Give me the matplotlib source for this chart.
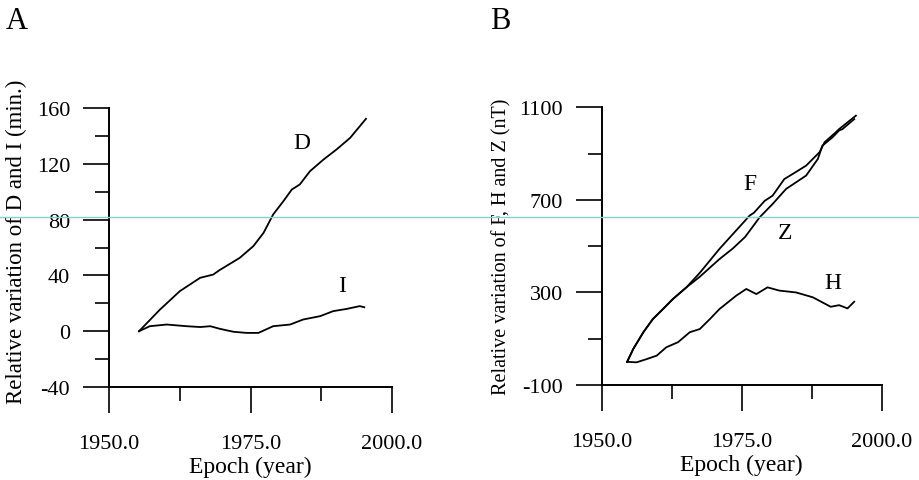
import matplotlib
matplotlib.use("Agg")
import matplotlib.pyplot as plt
from matplotlib.lines import Line2D

plt.rcParams['font.family'] = ['Liberation Serif', 'DejaVu Serif']
plt.rcParams['axes.unicode_minus'] = False

# panel A : declination D and inclination I (minutes of arc)
d_year = [1955.3, 1959.0, 1962.5, 1966.1, 1968.4, 1969.6, 1973.1, 1975.5, 1977.3, 1979.0,
          1980.8, 1982.3, 1983.7, 1985.5, 1987.9, 1990.2, 1992.6, 1995.4]
d_val = [0, 15.5, 28.7, 38.3, 40.6, 44, 52.6, 61, 70.5, 83.7,
         93.2, 101.6, 105.2, 114.7, 123.1, 130.3, 138.6, 152.3]

i_year = [1955.3, 1957.2, 1960.2, 1963.7, 1966.1, 1967.9, 1969.6, 1972.0, 1974.3, 1976.4,
          1979.0, 1982.0, 1984.3, 1987.3, 1989.6, 1992.0, 1994.3, 1995.1]
i_val = [0, 3.6, 4.8, 3.6, 3.0, 3.6, 1.7, -0.4, -1.2, -1.2,
         3.6, 4.8, 8.4, 10.8, 14.4, 16, 18, 17.2]

# panel B : F, Z and H (nT)
f_year = [1954.5, 1955.6, 1957.4, 1959.1, 1960.9, 1962.7, 1965.1, 1967.5, 1971.0, 1973.4,
          1976.4, 1977.2, 1979.1, 1980.5, 1982.6, 1984.1, 1986.5, 1988.9, 1989.8,
          1991.8, 1992.4, 1995.4]
f_val = [0, 56, 128, 185, 228, 272, 322, 385, 488, 552,
         632, 645, 696, 718, 790, 812, 848, 906, 949,
         992, 1006, 1064]

z_year = [1954.5, 1955.6, 1957.4, 1959.1, 1960.9, 1962.7, 1965.1, 1967.5, 1971.0, 1973.4,
          1975.6, 1978.2, 1980.5, 1982.9, 1986.5, 1988.6, 1989.4, 1991.2, 1992.4,
          1993.0, 1995.1]
z_val = [0, 56, 128, 185, 228, 272, 322, 368, 444, 490,
         540, 625, 682, 747, 805, 877, 934, 970, 1000,
         1006, 1049]

h_year = [1954.5, 1956.2, 1958.0, 1959.8, 1961.5, 1963.6, 1965.7, 1967.5, 1969.3, 1971.0,
          1974.0, 1975.8, 1977.6, 1979.6, 1981.7, 1984.7, 1987.7, 1990.9, 1992.4,
          1993.9, 1995.1]
h_val = [0, -2, 12, 27, 63, 85, 128, 142, 185, 228,
         286, 315, 293, 322, 308, 300, 279, 238, 245,
         231, 260]

x_ticks = [1950, 1975, 2000]
x_ticklabels = ['1950.0', '1975.0', '2000.0']
x_minor = [1962.5, 1987.5]

a_ticks = [-40, 0, 40, 80, 120, 160]
a_ticklabels = ['-40', '0', '40', '80', '120', '160']
a_minor = [-20, 20, 60, 100, 140]

b_ticks = [-100, 300, 700, 1100]
b_ticklabels = ['-100', '300', '700', '1100']
b_minor = [100, 500, 900]


def style_axes(ax):
    ax.spines['top'].set_visible(False)
    ax.spines['right'].set_visible(False)
    ax.spines['left'].set_linewidth(1.4)
    ax.spines['bottom'].set_linewidth(1.4)
    ax.tick_params(which='major', direction='out', length=19, width=1.2, labelsize=16)
    ax.tick_params(which='minor', direction='out', length=10, width=1.2)
    ax.tick_params(axis='y', which='major', pad=9)
    ax.tick_params(axis='x', which='major', pad=15)
    ax.set_xlim(1950, 2000)
    ax.set_xticks(x_ticks)
    ax.set_xticklabels(x_ticklabels)
    ax.set_xticks(x_minor, minor=True)
    ax.set_xlabel('Epoch (year)', fontsize=17, labelpad=2)


fig = plt.figure(figsize=(9.2, 4.81), dpi=100)

axA = fig.add_axes([0.1185, 0.1933, 0.3076, 0.580])
axA.plot(d_year, d_val, color='black', lw=1.3)
axA.plot(i_year, i_val, color='black', lw=1.3)
style_axes(axA)
axA.set_ylim(-40, 160)
axA.set_yticks(a_ticks)
axA.set_yticklabels(a_ticklabels)
axA.set_yticks(a_minor, minor=True)
axA.set_ylabel('Relative variation of D and I (min.)', fontsize=16.5)
axA.yaxis.set_label_coords(-0.29, 0.525)
axA.text(1984.0, 135, 'D', fontsize=17, ha='center', va='center')
axA.text(1991.1, 33, 'I', fontsize=17, ha='center', va='center')

axB = fig.add_axes([0.6543, 0.1975, 0.304, 0.5773])
axB.plot(f_year, f_val, color='black', lw=1.3)
axB.plot(z_year, z_val, color='black', lw=1.3)
axB.plot(h_year, h_val, color='black', lw=1.3)
style_axes(axB)
axB.set_ylim(-100, 1100)
axB.set_yticks(b_ticks)
axB.set_yticklabels(b_ticklabels)
axB.set_yticks(b_minor, minor=True)
axB.set_ylabel('Relative variation of F, H and Z (nT)', fontsize=14.5, labelpad=6)
axB.text(1976.4, 769, 'F', fontsize=17, ha='center', va='center')
axB.text(1982.8, 557, 'Z', fontsize=17, ha='center', va='center')
axB.text(1991.2, 341, 'H', fontsize=17, ha='center', va='center')

fig.text(0.006, 0.955, 'A', fontsize=22, ha='left', va='center')
fig.text(0.533, 0.955, 'B', fontsize=22, ha='left', va='center')

# faint scan line running across the page
fig.add_artist(Line2D([0, 1], [0.5468, 0.5468], transform=fig.transFigure,
                      color='#86cfd6', lw=1.0))

fig.savefig('out.png', dpi=100)
